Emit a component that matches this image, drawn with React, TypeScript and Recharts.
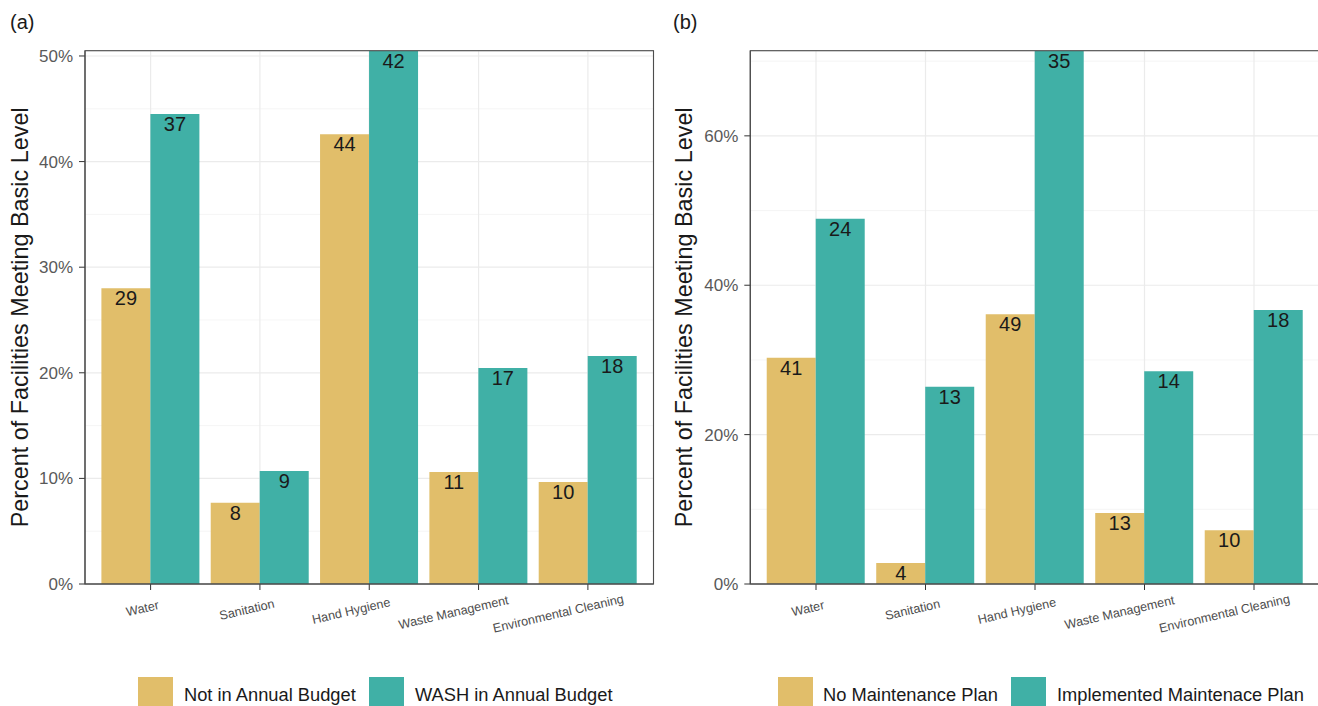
import React from 'react';
import { BarChart, Bar, XAxis, YAxis, CartesianGrid, LabelList, Label } from 'recharts';

const categories = ['Water', 'Sanitation', 'Hand Hygiene', 'Waste Management', 'Environmental Cleaning'];

// Panel (a): annual budget
const budgetSeriesNames = ['Not in Annual Budget', 'WASH in Annual Budget'];
const budgetNotPct = [28.0, 7.7, 42.6, 10.6, 9.66];
const budgetWashPct = [44.5, 10.7, 50.5, 20.45, 21.6];
const budgetNotN = [29, 8, 44, 11, 10];
const budgetWashN = [37, 9, 42, 17, 18];
const budgetTicks = [0, 10, 20, 30, 40, 50];
const budgetMinor = [5, 15, 25, 35, 45];

// Panel (b): maintenance plan
const planSeriesNames = ['No Maintenance Plan', 'Implemented Maintenace Plan'];
const planNoPct = [30.3, 2.8, 36.1, 9.5, 7.2];
const planImplPct = [48.9, 26.4, 71.4, 28.5, 36.7];
const planNoN = [41, 4, 49, 13, 10];
const planImplN = [24, 13, 35, 14, 18];
const planTicks = [0, 20, 40, 60];
const planMinor = [10, 30, 50, 70];

const GOLD = '#E1BE6A';
const TEAL = '#40B0A6';
const FONT = '"Liberation Sans", Arial, Helvetica, sans-serif';
const AXIS = '#333333';
const BORDER = '#4D4D4D';
const TITLE = 'Percent of Facilities Meeting Basic Level';

const CHART_W = 660;
const CHART_H = 640;
const PLOT_TOP = 50.7;
const PLOT_BOTTOM = 584;

const budgetData = categories.map((c, i) => ({
  cat: c, a: budgetNotPct[i], b: budgetWashPct[i], na: budgetNotN[i], nb: budgetWashN[i],
}));
const planData = categories.map((c, i) => ({
  cat: c, a: planNoPct[i], b: planImplPct[i], na: planNoN[i], nb: planImplN[i],
}));

let measureCtx: CanvasRenderingContext2D | null = null;
function textWidth(s: string, fs: number) {
  if (typeof document !== 'undefined') {
    if (!measureCtx) measureCtx = document.createElement('canvas').getContext('2d');
    if (measureCtx) {
      measureCtx.font = `${fs}px "Liberation Sans", Arial, sans-serif`;
      return measureCtx.measureText(s).width;
    }
  }
  return s.length * fs * 0.5;
}

const XTick = (props: any) => {
  const { x, y, payload } = props;
  const s = String(payload.value);
  const fs = 12.6;
  const w = textWidth(s, fs);
  const ax = x;
  const ay = y + 19;
  return (
    <text
      x={ax}
      y={ay}
      transform={`rotate(-13 ${ax} ${ay})`}
      textAnchor="start"
      dx={-0.72 * w}
      fontSize={fs}
      fill="#4D4D4D"
      fontFamily={FONT}
    >
      {s}
    </text>
  );
};

const BarLabel = (props: any) => {
  const { x, y, width, value } = props;
  return (
    <text
      x={Number(x) + Number(width) / 2}
      y={Number(y) + 17}
      textAnchor="middle"
      fontSize={20}
      fill="#1A1A1A"
      fontFamily={FONT}
    >
      {value}
    </text>
  );
};

const YTitle = () => {
  const cx = 28.5;
  const cy = (PLOT_TOP + PLOT_BOTTOM) / 2;
  return (
    <text
      x={cx}
      y={cy}
      transform={`rotate(-90 ${cx} ${cy})`}
      textAnchor="middle"
      fontSize={23.4}
      fill="#1A1A1A"
      fontFamily={FONT}
    >
      {TITLE}
    </text>
  );
};

type PanelProps = {
  data: any[];
  domainMax: number;
  ticks: number[];
  minor: number[];
  yAxisWidth: number;
  rightMargin: number;
  names: string[];
};

function Panel({ data, domainMax, ticks, minor, yAxisWidth, rightMargin, names }: PanelProps) {
  const plotW = CHART_W - yAxisWidth - rightMargin;
  const pad = (plotW / 5.2) * 0.1;
  return (
    <BarChart
      width={CHART_W}
      height={CHART_H}
      data={data}
      margin={{ top: PLOT_TOP, right: rightMargin, left: 0, bottom: 0 }}
      barCategoryGap="5%"
      barGap={0}
    >
      <CartesianGrid
        horizontalValues={minor}
        vertical={false}
        stroke="#F0F0F0"
        strokeWidth={0.7}
      />
      <CartesianGrid stroke="#EBEBEB" strokeWidth={1.2} />
      <XAxis
        dataKey="cat"
        type="category"
        padding={{ left: pad, right: pad }}
        height={CHART_H - PLOT_BOTTOM}
        tickSize={6}
        tickMargin={2}
        tickLine={{ stroke: AXIS }}
        axisLine={{ stroke: BORDER, strokeWidth: 1.1 }}
        tick={<XTick />}
        interval={0}
      />
      <YAxis
        type="number"
        domain={[0, domainMax]}
        ticks={ticks}
        allowDataOverflow
        width={yAxisWidth}
        tickSize={6}
        tickMargin={6}
        tickLine={{ stroke: AXIS }}
        axisLine={{ stroke: BORDER, strokeWidth: 1.1 }}
        tickFormatter={(v: number) => `${v}%`}
        tick={{ fontSize: 17, fill: '#595959', fontFamily: FONT }}
      >
        <Label content={<YTitle />} />
      </YAxis>
      <Bar dataKey="a" name={names[0]} fill={GOLD} isAnimationActive={false}>
        <LabelList dataKey="na" content={<BarLabel />} />
      </Bar>
      <Bar dataKey="b" name={names[1]} fill={TEAL} isAnimationActive={false}>
        <LabelList dataKey="nb" content={<BarLabel />} />
      </Bar>
    </BarChart>
  );
}

const legendText = { fontSize: 18.3, fill: '#1A1A1A', fontFamily: FONT } as const;

const LEFT_X = 0;
const RIGHT_X = 664;
const LEFT_YW = 85;
const LEFT_RM = 6.5;
const RIGHT_YW = 86.3;
const RIGHT_RM = 4.3;

export default function App() {
  return (
    <div
      style={{
        position: 'absolute',
        left: 0,
        top: 0,
        width: 1318,
        height: 706,
        background: '#FFFFFF',
        overflow: 'hidden',
        fontFamily: FONT,
      }}
    >
      <div style={{ position: 'absolute', left: LEFT_X, top: 0, width: CHART_W, height: CHART_H }}>
        <Panel
          data={budgetData}
          domainMax={50.5}
          ticks={budgetTicks}
          minor={budgetMinor}
          yAxisWidth={LEFT_YW}
          rightMargin={LEFT_RM}
          names={budgetSeriesNames}
        />
      </div>
      <div style={{ position: 'absolute', left: RIGHT_X, top: 0, width: CHART_W, height: CHART_H }}>
        <Panel
          data={planData}
          domainMax={71.4}
          ticks={planTicks}
          minor={planMinor}
          yAxisWidth={RIGHT_YW}
          rightMargin={RIGHT_RM}
          names={planSeriesNames}
        />
      </div>
      <svg
        width={1318}
        height={706}
        style={{ position: 'absolute', left: 0, top: 0, pointerEvents: 'none' }}
      >
        {/* panel borders */}
        <rect
          x={LEFT_X + LEFT_YW}
          y={PLOT_TOP}
          width={CHART_W - LEFT_YW - LEFT_RM}
          height={PLOT_BOTTOM - PLOT_TOP}
          fill="none"
          stroke={BORDER}
          strokeWidth={1.1}
        />
        <rect
          x={RIGHT_X + RIGHT_YW}
          y={PLOT_TOP}
          width={CHART_W - RIGHT_YW - RIGHT_RM}
          height={PLOT_BOTTOM - PLOT_TOP}
          fill="none"
          stroke={BORDER}
          strokeWidth={1.1}
        />

        <text x={10} y={29} fontSize={20} fill="#1A1A1A" fontFamily={FONT}>(a)</text>
        <text x={673} y={29} fontSize={20} fill="#1A1A1A" fontFamily={FONT}>(b)</text>

        <rect x={138} y={677} width={35} height={35} fill={GOLD} />
        <text x={184} y={700.5} {...legendText}>{budgetSeriesNames[0]}</text>
        <rect x={369} y={677} width={35} height={35} fill={TEAL} />
        <text x={415} y={700.5} {...legendText}>{budgetSeriesNames[1]}</text>

        <rect x={778} y={677} width={35} height={35} fill={GOLD} />
        <text x={823} y={700.5} {...legendText}>{planSeriesNames[0]}</text>
        <rect x={1011} y={677} width={35} height={35} fill={TEAL} />
        <text x={1057} y={700.5} {...legendText}>{planSeriesNames[1]}</text>
      </svg>
    </div>
  );
}
